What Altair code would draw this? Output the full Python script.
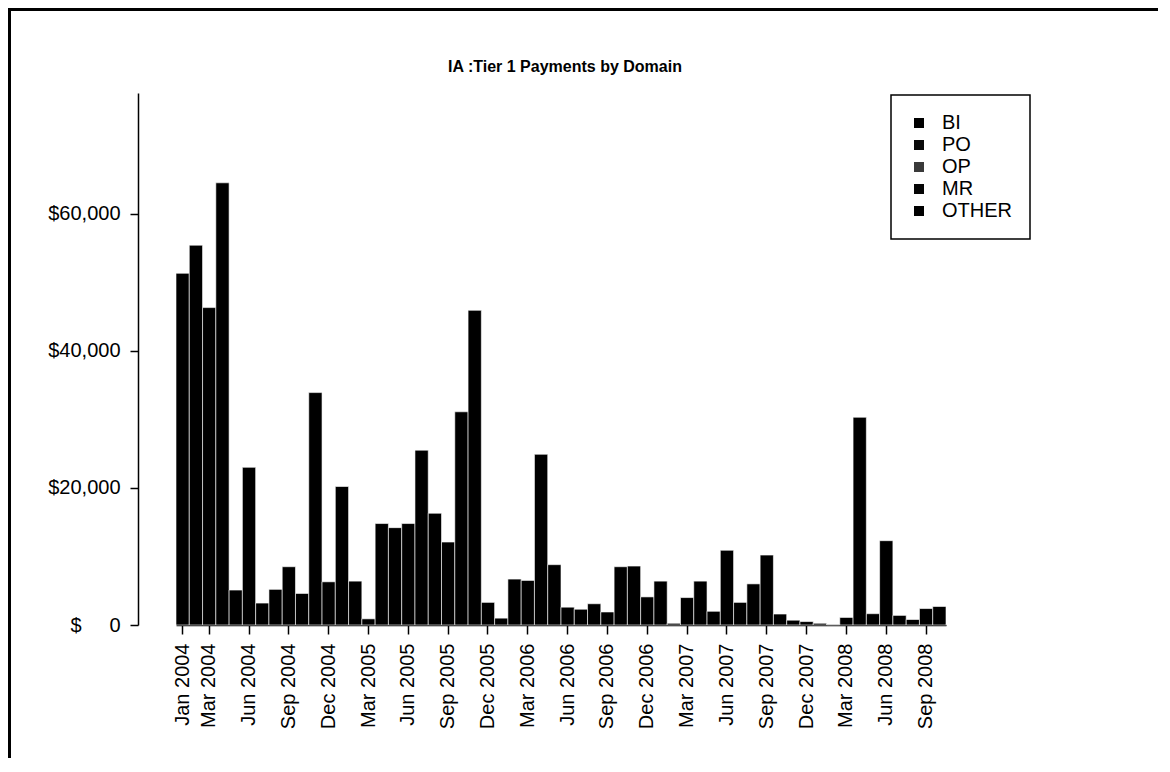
import altair as alt
import pandas as pd

month_names = ["Jan", "Feb", "Mar", "Apr", "May", "Jun", "Jul", "Aug", "Sep", "Oct", "Nov", "Dec"]
years = [2004, 2005, 2006, 2007, 2008]
months = [f"{m} {y}" for y in years for m in month_names][:58]

# monthly Tier 1 payments (total of the stacked domains)
payments = [
    51300, 55400, 46300, 64500, 5100, 23000, 3200, 5200, 8500, 4600, 33900, 6300,
    20200, 6400, 900, 14800, 14200, 14800, 25500, 16300, 12100, 31100, 45900, 3300,
    1000, 6700, 6500, 24900, 8800, 2600, 2300, 3100, 1900, 8500, 8600, 4100,
    6400, 250, 4000, 6400, 2000, 10900, 3300, 6000, 10200, 1600, 700, 500,
    250, 50, 1100, 30300, 1650, 12300, 1400, 800, 2400, 2700,
]

domains = ["BI", "PO", "OP", "MR", "OTHER"]
domain_colors = ["#000000", "#0a0a0a", "#3a3a3a", "#050505", "#000000"]

tick_labels = [
    "Jan 2004", "Mar 2004", "Jun 2004", "Sep 2004", "Dec 2004",
    "Mar 2005", "Jun 2005", "Sep 2005", "Dec 2005",
    "Mar 2006", "Jun 2006", "Sep 2006", "Dec 2006",
    "Mar 2007", "Jun 2007", "Sep 2007", "Dec 2007",
    "Mar 2008", "Jun 2008", "Sep 2008",
]
y_ticks = [0, 20000, 40000, 60000]
y_max = 77600

title_text = "IA :Tier 1 Payments by Domain"
FONT = "Liberation Sans"

df = pd.DataFrame({"month": months, "payment": payments})
legend_df = pd.DataFrame({"domain": domains})
one = pd.DataFrame({"title": [title_text]})

zero_label = "$" + "\u00a0" * 5 + "0"

bars = alt.Chart(df).mark_bar(color="black", stroke="white", strokeWidth=0.6).encode(
    x=alt.X(
        "month:N",
        sort=months,
        scale=alt.Scale(paddingInner=0, paddingOuter=0),
        axis=alt.Axis(
            values=tick_labels,
            labelAngle=270,
            title=None,
            tickSize=9,
            labelPadding=9,
            labelFontSize=20,
        ),
    ),
    y=alt.Y(
        "payment:Q",
        scale=alt.Scale(domain=[0, y_max], nice=False, zero=True),
        axis=alt.Axis(
            values=y_ticks,
            labelExpr=f"datum.value == 0 ? '{zero_label}' : format(datum.value, '$,.0f')",
            offset=38,
            tickSize=8,
            labelPadding=10,
            grid=False,
            title=None,
            labelFontSize=20,
        ),
    ),
)

legend_layer = (
    alt.Chart(legend_df)
    .mark_square(size=100)
    .encode(
        color=alt.Color(
            "domain:N",
            sort=domains,
            scale=alt.Scale(domain=domains, range=domain_colors),
            legend=alt.Legend(
                title=None,
                orient="none",
                legendX=715,
                legendY=2,
                strokeColor="black",
                padding=18,
                symbolType="square",
                symbolSize=100,
                symbolStrokeWidth=0,
                symbolOpacity=1,
                labelFontSize=20,
                labelFont=FONT,
                labelColor="black",
                labelOffset=13,
                rowPadding=2,
            ),
        )
    )
    .transform_filter("false")
)

title_mark = alt.Chart(one).mark_text(
    font=FONT, fontSize=16, fontWeight="bold", color="black", align="center", baseline="middle"
).encode(text="title:N", x=alt.value(389), y=alt.value(-26))

frame_left = alt.Chart(one).mark_rule(color="black", strokeWidth=3).encode(
    x=alt.value(-166.5), y=alt.value(-83.5), y2=alt.value(700)
)
frame_top = alt.Chart(one).mark_rule(color="black", strokeWidth=3).encode(
    x=alt.value(-168), x2=alt.value(1000), y=alt.value(-83.5)
)

chart = (
    alt.layer(bars, legend_layer, title_mark, frame_left, frame_top)
    .properties(
        width=770,
        height=532,
        autosize=alt.AutoSizeParams(type="none"),
        padding={"left": 168, "top": 85, "right": 212, "bottom": 133},
        background="white",
    )
    .configure_view(stroke=None)
    .configure_axis(
        labelFont=FONT,
        labelColor="black",
        domainColor="black",
        domainWidth=1.5,
        tickColor="black",
        tickWidth=1.5,
    )
    .configure_legend(strokeWidth=1.5)
)

chart.save("out.html", embed_options={"renderer": "svg", "actions": False})
